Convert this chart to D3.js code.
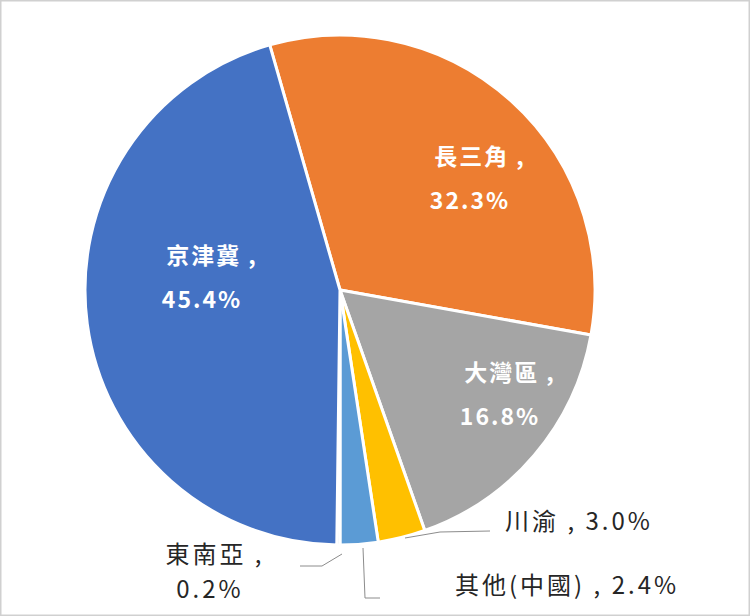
<!DOCTYPE html>
<html><head><meta charset="utf-8">
<script src="https://cdn.jsdelivr.net/npm/d3@7"></script>
<style>body{margin:0;background:#fff}</style>
</head><body>
<script>
const names = ["長三角", "大灣區", "川渝", "其他(中國)", "東南亞", "京津冀"];
const values = [32.3, 16.8, 3.0, 2.4, 0.2, 45.4];
const colors = ["#ED7D31", "#A5A5A5", "#FFC000", "#5B9BD5", "#9fc3e6", "#4472C4"];

const width = 750, height = 616;
const cx = 340, cy = 290, r = 255;

let svg = d3.select("body").append("svg")
        .attr("width", width)
        .attr("height", height);

svg.append("rect").attr("x", 0.5).attr("y", 0.5)
   .attr("width", width - 1).attr("height", height - 1)
   .attr("fill", "#fff").attr("stroke", "#d0d0d0").attr("stroke-width", 2);

let g = svg.append("g").attr("transform", "translate(" + cx + "," + cy + ")");

const start = -16 * Math.PI / 180;
let pie = d3.pie().sort(null).value(d => d)
            .startAngle(start).endAngle(start + 2 * Math.PI);
let arcs = pie(values);
let arc = d3.arc().innerRadius(0).outerRadius(r);

g.selectAll("path").data(arcs).enter().append("path")
 .attr("d", arc)
 .attr("fill", (d, i) => colors[i])
 .attr("stroke", "#fff").attr("stroke-width", 3);

// inside labels
const font = "'Noto Sans CJK TC', sans-serif";
const inner = [
  {i: 0, x: 480, y: 165},
  {i: 1, x: 510, y: 381},
  {i: 5, x: 212, y: 264}
];
inner.forEach(p => {
  let t = svg.append("text").attr("text-anchor", "middle")
     .attr("fill", "#fff").attr("font-weight", "bold")
     .attr("font-family", font).attr("font-size", 23).attr("letter-spacing", 2);
  t.append("tspan").attr("x", p.x).attr("y", p.y).text(names[p.i] + " ,");
  t.append("tspan").attr("x", p.x - 10).attr("dy", 44).text(values[p.i].toFixed(1) + "%");
});

// leader lines
const line = d3.line();
const leaders = [
  [[405, 538], [440, 532], [490, 531]],
  [[363, 548], [365, 598], [380, 598]],
  [[342, 554], [322, 566], [300, 566]]
];
svg.selectAll(".leader").data(leaders).enter().append("path")
   .attr("d", line).attr("fill", "none")
   .attr("stroke", "#8c8c8c").attr("stroke-width", 1);

const outer = [
  {i: 2, x: 505, y: 530},
  {i: 3, x: 455, y: 594}
];
outer.forEach(p => {
  svg.append("text").attr("x", p.x).attr("y", p.y)
     .attr("font-family", font).attr("font-size", 24).attr("fill", "#262626")
     .attr("letter-spacing", 3)
     .text(names[p.i] + " ,  " + values[p.i].toFixed(1) + "%");
});
let t = svg.append("text").attr("text-anchor", "middle")
     .attr("font-family", font).attr("font-size", 24).attr("fill", "#262626")
     .attr("letter-spacing", 3);
t.append("tspan").attr("x", 215).attr("y", 563).text(names[4] + " ,");
t.append("tspan").attr("x", 210).attr("y", 598).text(values[4].toFixed(1) + "%");
</script>
</body></html>
